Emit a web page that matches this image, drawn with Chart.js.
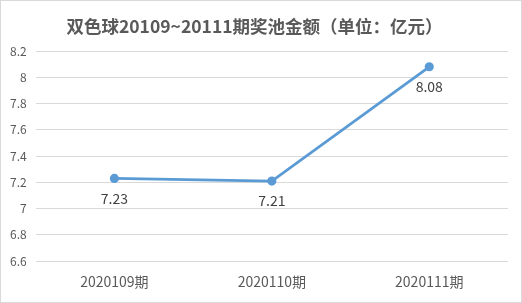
<!DOCTYPE html>
<html>
<head>
<meta charset="utf-8">
<script src="https://cdn.jsdelivr.net/npm/chart.js@4"></script>
<style>
  html, body { margin: 0; padding: 0; background: #fff; }
  #wrap { width: 522px; height: 303px; box-sizing: border-box; border: 1px solid #d9d9d9; }
</style>
</head>
<body>
<div id="wrap"><canvas id="chart" width="520" height="301"></canvas></div>
<script>
const periods = ["2020109期", "2020110期", "2020111期"];
const poolValues = [7.23, 7.21, 8.08];
const yTicks = [6.6, 6.8, 7, 7.2, 7.4, 7.6, 7.8, 8, 8.2];

const fontFamily = '"Noto Sans CJK SC", "Noto Sans", sans-serif';

// draw value labels under each point
const valueLabels = {
    id: 'valueLabels',
    afterDatasetsDraw(chart) {
        const ctx = chart.ctx;
        const meta = chart.getDatasetMeta(0);
        ctx.save();
        ctx.font = '14px ' + fontFamily;
        ctx.fillStyle = '#404040';
        ctx.textAlign = 'center';
        ctx.textBaseline = 'middle';
        meta.data.forEach((pt, i) => {
            ctx.fillText(String(poolValues[i]), pt.x, pt.y + 20);
        });
        ctx.restore();
    }
};

new Chart(document.getElementById('chart').getContext('2d'), {
    type: 'line',
    data: {
        labels: periods,
        datasets: [{
            data: poolValues,
            borderColor: '#5b9bd5',
            backgroundColor: '#5b9bd5',
            borderWidth: 2.75,
            pointRadius: 3.2,
            pointHoverRadius: 3.2,
            tension: 0
        }]
    },
    options: {
        responsive: false,
        animation: false,
        layout: { padding: { left: 0, right: 13, top: 15, bottom: 0 } },
        plugins: {
            legend: { display: false },
            tooltip: { enabled: false },
            title: {
                display: true,
                text: '双色球20109~20111期奖池金额（单位：亿元）',
                color: '#595959',
                font: { family: fontFamily, size: 17.5, weight: 'bold' },
                padding: { top: 0, bottom: 14 }
            }
        },
        scales: {
            x: {
                offset: true,
                grid: { display: false, drawTicks: false },
                border: { display: false },
                ticks: {
                    color: '#595959',
                    font: { family: fontFamily, size: 14 },
                    padding: 12
                }
            },
            y: {
                min: 6.6,
                max: 8.2,
                afterBuildTicks(axis) {
                    axis.ticks = yTicks.map(v => ({ value: v }));
                },
                grid: { color: '#d9d9d9', drawTicks: false },
                border: { display: false },
                ticks: {
                    color: '#595959',
                    font: { family: fontFamily, size: 12 },
                    padding: 9,
                    callback: v => String(Math.round(v * 10) / 10)
                }
            }
        }
    },
    plugins: [valueLabels]
});
</script>
</body>
</html>
